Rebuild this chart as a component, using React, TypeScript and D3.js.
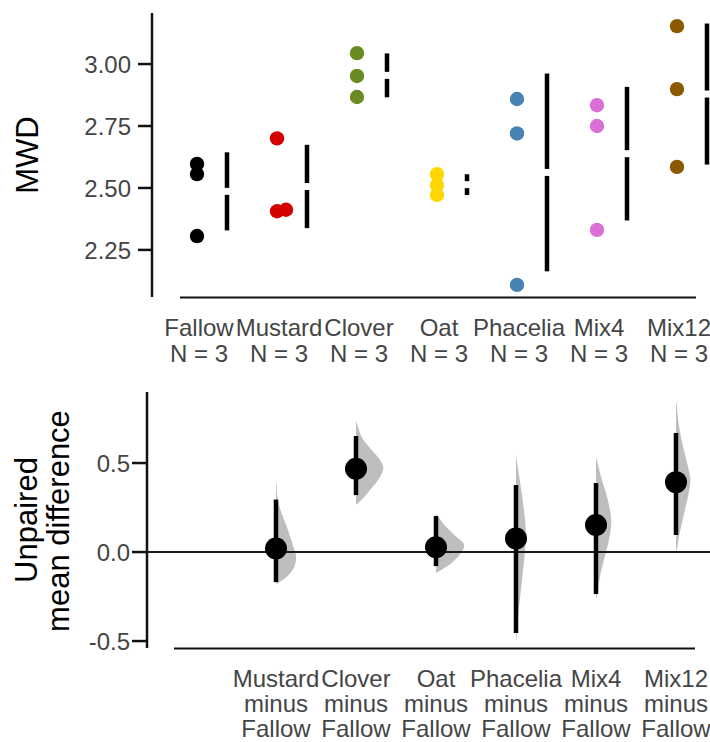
import React from "react";
import * as d3 from "d3";

// ---------- data ----------
const groups = ["Fallow", "Mustard", "Clover", "Oat", "Phacelia", "Mix4", "Mix12"];
const groupColors = ["#000000", "#d40000", "#698b22", "#ffd700", "#4682b4", "#da70d6", "#8b5a00"];

const fallowMWD = [2.597, 2.556, 2.306];
const mustardMWD = [2.700, 2.412, 2.406];
const cloverMWD = [3.044, 2.952, 2.867];
const oatMWD = [2.556, 2.512, 2.472];
const phaceliaMWD = [2.859, 2.720, 2.109];
const mix4MWD = [2.834, 2.750, 2.331];
const mix12MWD = [3.153, 2.899, 2.585];
const groupValues = [fallowMWD, mustardMWD, cloverMWD, oatMWD, phaceliaMWD, mix4MWD, mix12MWD];

const topTicks = [2.25, 2.5, 2.75, 3.0];
const bottomTicks = [-0.5, 0, 0.5];

// bootstrap 95% CI of mean difference vs Fallow
const ciLow = [-0.169, 0.320, -0.079, -0.455, -0.236, 0.096];
const ciHigh = [0.295, 0.652, 0.202, 0.376, 0.388, 0.669];

// bootstrap distributions (value, relative density)
const mustardBoot = [[0.388, 0.02], [0.292, 0.06], [0.217, 0.19], [0.142, 0.36], [0.030, 0.58], [-0.026, 0.67], [-0.082, 0.61], [-0.139, 0.36], [-0.167, 0.13], [-0.180, 0]];
const cloverBoot = [[0.730, 0.02], [0.646, 0.19], [0.573, 0.52], [0.517, 0.80], [0.472, 0.91], [0.421, 0.80], [0.348, 0.47], [0.303, 0.24], [0.275, 0.08], [0.265, 0]];
const oatBoot = [[0.212, 0], [0.208, 0.03], [0.152, 0.28], [0.096, 0.61], [0.039, 0.94], [-0.006, 0.83], [-0.056, 0.56], [-0.090, 0.28], [-0.112, 0.06], [-0.116, 0]];
const phaceliaBoot = [[0.545, 0], [0.421, 0.11], [0.292, 0.22], [0.163, 0.31], [0.084, 0.33], [-0.028, 0.28], [-0.174, 0.19], [-0.326, 0.09], [-0.494, 0.01], [-0.500, 0]];
const mix4Boot = [[0.532, 0], [0.528, 0.01], [0.421, 0.17], [0.309, 0.37], [0.197, 0.50], [0.140, 0.50], [0.051, 0.41], [-0.045, 0.26], [-0.157, 0.11], [-0.253, 0.02], [-0.258, 0]];
const mix12Boot = [[0.848, 0], [0.843, 0.01], [0.697, 0.11], [0.562, 0.28], [0.449, 0.44], [0.393, 0.48], [0.320, 0.41], [0.208, 0.26], [0.096, 0.11], [0.011, 0.02], [0.006, 0]];
const bootDists = [mustardBoot, cloverBoot, oatBoot, phaceliaBoot, mix4Boot, mix12Boot];

// ---------- layout ----------
const W = 710;
const H = 742;
const FONT = "'Liberation Sans', Arial, Helvetica, sans-serif";
const GREY = "#454545";
const LABEL_SIZE = 24;

const x = d3.scalePoint<string>().domain(groups).range([197, 677]);
const yTop = d3.scaleLinear().domain([2.06, 3.206]).range([297, 13]);
const yBot = d3.scaleLinear().domain([-0.539, 0.899]).range([648, 392]);
const wScale = d3.scaleLinear().domain([0, 1]).range([0, 30]);

function swarm(values: number[], minD: number) {
  const idx = values.map((v, i) => i).sort((a, b) => values[a] - values[b]);
  const placed: { y: number; dx: number }[] = [];
  const offsets = new Array(values.length).fill(0);
  const steps = [0, 3, -3, 6, -6, 9, -9, 12, -12];
  for (const i of idx) {
    const yy = yTop(values[i]);
    let chosen = 0;
    for (const s of steps) {
      if (placed.every((p) => Math.hypot(p.dx - s, p.y - yy) >= minD)) {
        chosen = s;
        break;
      }
    }
    placed.push({ y: yy, dx: chosen });
    offsets[i] = chosen;
  }
  return offsets;
}

export default function App() {
  const fallowMean = d3.mean(fallowMWD) as number;
  const area = d3
    .area<number[]>()
    .y((d) => yBot(d[0]))
    .x0(0)
    .x1((d) => wScale(d[1]))
    .curve(d3.curveCatmullRom);

  return (
    <svg
      width={W}
      height={H}
      style={{ position: "absolute", left: 0, top: 0, background: "#fff" }}
      fontFamily={FONT}
    >
      <rect width={W} height={H} fill="#fff" />

      {/* ===== top panel ===== */}
      <line x1={152} x2={152} y1={yTop.range()[1]} y2={yTop.range()[0]} stroke="#111" strokeWidth={2.5} />
      {topTicks.map((t) => (
        <g key={t}>
          <line x1={138} x2={152} y1={yTop(t)} y2={yTop(t)} stroke="#111" strokeWidth={2.5} />
          <text x={131} y={yTop(t)} dy="0.36em" textAnchor="end" fontSize={LABEL_SIZE} fill={GREY}>
            {t.toFixed(2)}
          </text>
        </g>
      ))}
      <line x1={180} x2={696} y1={297.5} y2={297.5} stroke="#111" strokeWidth={2} />
      <text transform={`translate(38,155) rotate(-90)`} textAnchor="middle" fontSize={31} fill="#000">
        MWD
      </text>

      {groups.map((g, gi) => {
        const vals = groupValues[gi];
        const cx = x(g) as number;
        const offs = swarm(vals, 8);
        const m = d3.mean(vals) as number;
        const sd = d3.deviation(vals) as number;
        const bx = cx + 30;
        const gap = 3.5;
        return (
          <g key={g}>
            {vals.map((v, i) => (
              <circle key={i} cx={cx + offs[i]} cy={yTop(v)} r={7.2} fill={groupColors[gi]} />
            ))}
            <line x1={bx} x2={bx} y1={yTop(m + sd)} y2={yTop(m) - gap} stroke="#000" strokeWidth={4.5} />
            <line x1={bx} x2={bx} y1={yTop(m) + gap} y2={yTop(m - sd)} stroke="#000" strokeWidth={4.5} />
            <text x={cx + 2} y={336} textAnchor="middle" fontSize={LABEL_SIZE} fill={GREY}>
              {g}
            </text>
            <text x={cx + 2} y={362} textAnchor="middle" fontSize={LABEL_SIZE} fill={GREY}>
              {`N = ${vals.length}`}
            </text>
          </g>
        );
      })}

      {/* ===== bottom panel ===== */}
      <line x1={147} x2={147} y1={yBot.range()[1]} y2={yBot.range()[0]} stroke="#111" strokeWidth={2.5} />
      {bottomTicks.map((t) => (
        <g key={t}>
          <line x1={132} x2={147} y1={yBot(t)} y2={yBot(t)} stroke="#111" strokeWidth={2.5} />
          <text x={130} y={yBot(t)} dy="0.36em" textAnchor="end" fontSize={LABEL_SIZE} fill={GREY}>
            {t.toFixed(1)}
          </text>
        </g>
      ))}
      <line x1={174} x2={695} y1={648.5} y2={648.5} stroke="#111" strokeWidth={2} />
      <text transform={`translate(37,520) rotate(-90)`} textAnchor="middle" fontSize={31} fill="#000">
        Unpaired
      </text>
      <text transform={`translate(69,521) rotate(-90)`} textAnchor="middle" fontSize={31} fill="#000">
        mean difference
      </text>

      {groups.slice(1).map((g, i) => {
        const cx = (x(g) as number) - 1;
        return (
          <path key={g} transform={`translate(${cx},0)`} d={area(bootDists[i] as number[][]) || ""} fill="#bebebe" />
        );
      })}

      <line x1={147} x2={W} y1={yBot(0)} y2={yBot(0)} stroke="#1a1a1a" strokeWidth={2} />

      {groups.slice(1).map((g, i) => {
        const cx = (x(g) as number) - 1;
        const diff = (d3.mean(groupValues[i + 1]) as number) - fallowMean;
        return (
          <g key={g}>
            <line x1={cx} x2={cx} y1={yBot(ciHigh[i])} y2={yBot(ciLow[i])} stroke="#000" strokeWidth={4.5} />
            <circle cx={cx} cy={yBot(diff)} r={11} fill="#000" />
            <text x={cx} y={687} textAnchor="middle" fontSize={LABEL_SIZE} fill={GREY}>
              {g}
            </text>
            <text x={cx} y={712} textAnchor="middle" fontSize={LABEL_SIZE} fill={GREY}>
              minus
            </text>
            <text x={cx} y={737} textAnchor="middle" fontSize={LABEL_SIZE} fill={GREY}>
              {groups[0]}
            </text>
          </g>
        );
      })}
    </svg>
  );
}
